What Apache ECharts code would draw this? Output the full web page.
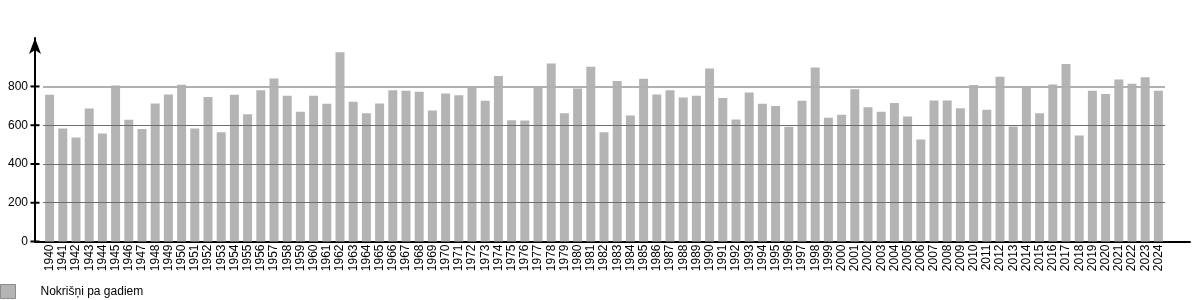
<!DOCTYPE html>
<html>
<head>
<meta charset="utf-8">
<script src="https://cdn.jsdelivr.net/npm/echarts@6/dist/echarts.min.js"></script>
<style>html,body{margin:0;padding:0;background:#fff}#c{width:1200px;height:300px}</style>
</head>
<body>
<div id="c"></div>
<script>
const years = [];
for (let y = 1940; y <= 2024; y++) years.push(String(y));
const precipitation = [
  757, 583, 536, 686, 557, 805, 628, 580, 712, 759,
  809, 583, 745, 564, 757, 657, 781, 841, 752, 670,
  752, 711, 976, 721, 662, 712, 781, 778, 773, 676,
  764, 754, 800, 726, 854, 626, 624, 800, 919, 662,
  790, 902, 564, 828, 650, 840, 759, 781, 743, 752,
  893, 740, 630, 769, 711, 699, 592, 726, 898, 638,
  654, 785, 693, 669, 714, 645, 526, 728, 728, 688,
  807, 680, 850, 593, 792, 662, 810, 916, 547, 778,
  761, 836, 814, 847, 778
];
const yMax = 1050;
const yTicks = [0, 200, 400, 600, 800];
const yTickLabels = ['0', '200', '400', '600', '800'];
const yTickMax = 800;
const gridLines = [200, 400, 600, 800];
const seriesName = 'Nokrišņi pa gadiem';

const FONT = '"Liberation Sans", Arial, sans-serif';
const TOP = 38, BOTTOM = 58.5, H = 300;
const plotH = H - TOP - BOTTOM;
const tickTop = TOP + plotH * (1 - yTickMax / yMax);

const chart = echarts.init(document.getElementById('c'), null, {renderer: 'canvas'});
chart.setOption({
  animation: false,
  backgroundColor: '#fff',
  textStyle: {fontFamily: FONT},
  grid: [
    {left: 43, right: 35, top: TOP, bottom: BOTTOM},
    {left: 35, right: 10, top: TOP, bottom: BOTTOM},
    {left: 43, right: 35, top: tickTop, bottom: BOTTOM}
  ],
  legend: {
    left: 0, top: 284, padding: 0,
    itemWidth: 15, itemHeight: 14,
    icon: 'rect',
    textStyle: {fontSize: 12, color: '#000', fontFamily: FONT, padding: [0, 0, 0, 20]},
    data: [{name: seriesName, itemStyle: {color: '#b4b4b4', borderColor: '#8c8c8c', borderWidth: 1}}]
  },
  xAxis: [
    {
      type: 'category', gridIndex: 0, data: years,
      axisLine: {show: false},
      axisTick: {show: false},
      axisLabel: {rotate: 90, fontSize: 12, color: '#000', margin: 3, interval: 0, fontFamily: FONT}
    },
    {
      type: 'value', gridIndex: 1, min: 0, max: 1,
      axisLine: {show: true, lineStyle: {color: '#000', width: 2}},
      axisTick: {show: false}, axisLabel: {show: false}, splitLine: {show: false}
    },
    {type: 'value', gridIndex: 2, min: 0, max: 1, show: false}
  ],
  yAxis: [
    {
      type: 'value', gridIndex: 0, min: 0, max: yMax, offset: 8,
      axisLine: {show: true, lineStyle: {color: '#000', width: 2}, symbol: ['none', 'arrow'], symbolSize: [9, 16]},
      axisTick: {show: false},
      axisLabel: {show: false},
      splitLine: {show: false}
    },
    {type: 'value', gridIndex: 1, show: false, min: 0, max: yMax},
    {
      type: 'category', gridIndex: 2, data: yTickLabels, boundaryGap: false, offset: 4,
      axisLine: {show: false},
      axisTick: {show: false},
      axisLabel: {fontSize: 12, color: '#000', margin: 11, interval: 0, fontFamily: FONT},
      splitLine: {show: false}
    }
  ],
  series: [
    {
      type: 'line', xAxisIndex: 0, yAxisIndex: 0, data: [], z: 1, silent: true,
      markLine: {
        silent: true, symbol: 'none', label: {show: false},
        data: gridLines.map(v => ({
          yAxis: v,
          lineStyle: v === 800 ? {color: '#b0b0b0', width: 2, type: 'solid'} : {color: '#6e6e6e', width: 1, type: 'solid'}
        }))
      }
    },
    {
      name: seriesName, type: 'bar', xAxisIndex: 0, yAxisIndex: 0, z: 2,
      data: precipitation, barWidth: '68%',
      itemStyle: {color: '#b4b4b4'}
    },
    {
      name: 'ticks', type: 'scatter', xAxisIndex: 1, yAxisIndex: 1, z: 5, silent: true,
      symbol: 'rect', symbolSize: [9, 2], clip: false,
      itemStyle: {color: '#000', opacity: 1},
      data: yTicks.map(v => [0, v])
    }
  ]
});
</script>
</body>
</html>
